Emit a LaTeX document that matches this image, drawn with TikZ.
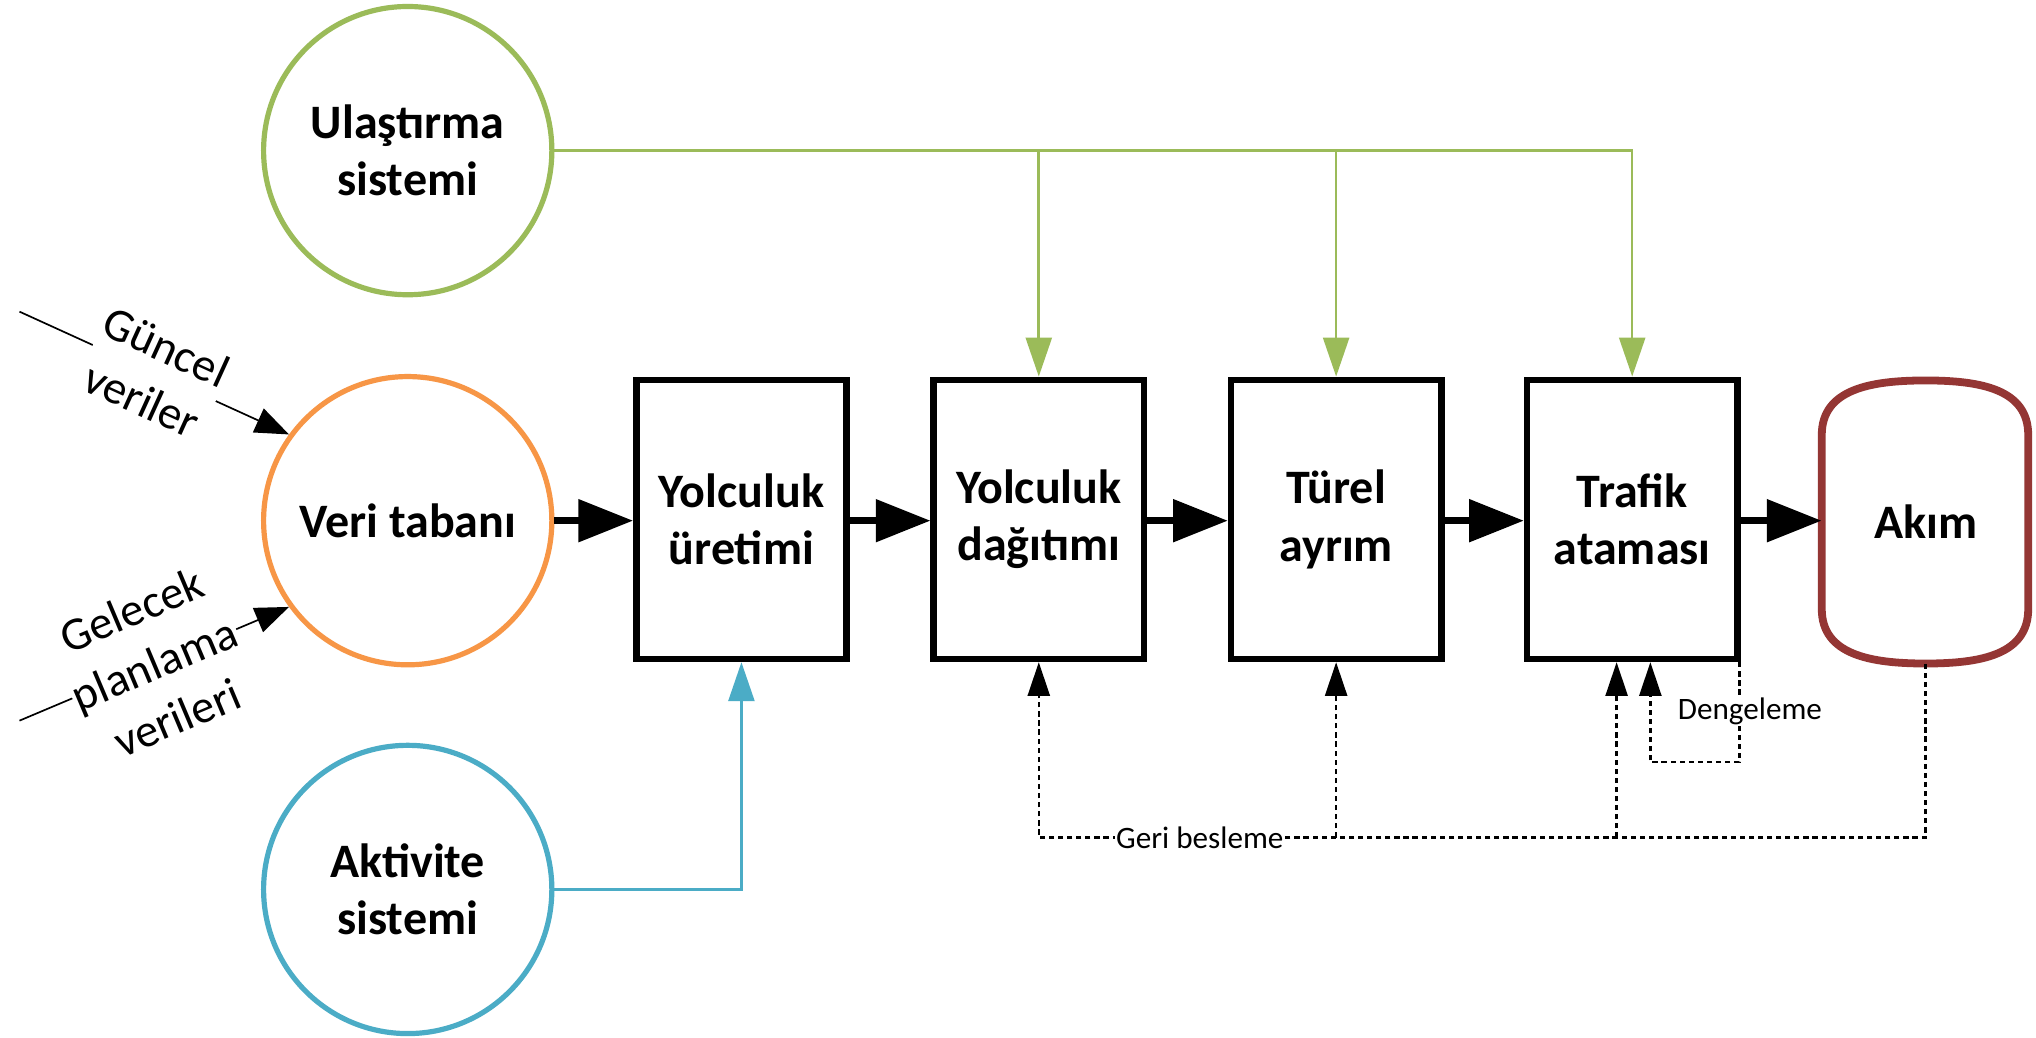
\documentclass[tikz,border=0pt]{standalone}
\usepackage{fontspec}
\setmainfont{Carlito}
\usetikzlibrary{arrows.meta,calc}

\definecolor{sysgreen}{HTML}{9BBB59}
\definecolor{dataorange}{HTML}{F79646}
\definecolor{actblue}{HTML}{4BACC6}
\definecolor{flowred}{HTML}{943634}

\begin{document}
\begin{tikzpicture}[x=1pt,y=-1pt,
  mainfont/.style={font=\fontsize{37}{44}\selectfont\bfseries},
  sidefont/.style={font=\fontsize{36}{45}\selectfont},
  smallfont/.style={font=\fontsize{24}{28}\selectfont},
  sysring/.style={circle, draw, line width=4pt, minimum size=222pt, inner sep=0pt, align=center, mainfont},
  stepbox/.style={rectangle, draw=black, line width=5pt, minimum width=162pt, minimum height=215pt, inner sep=0pt, align=center, mainfont},
  mainarrow/.style={line width=5pt, -{Triangle[length=42pt,width=32pt]}},
  greenarrow/.style={sysgreen, line width=2pt, -{Triangle[length=30pt,width=20pt]}},
  bluearrow/.style={actblue, line width=2pt, -{Triangle[length=30pt,width=20pt]}},
  fbline/.style={line width=1.9pt, dash pattern=on 4pt off 3pt},
  fbarrow/.style={fbline, -{Triangle[length=26pt,width=17pt]}},
  sidearrow/.style={line width=1.3pt, -{Triangle[length=26pt,width=20pt]}},
  gaplabel/.style={fill=white, inner sep=1pt}
]
\fill[white] (0,0) rectangle (1568,799);
\useasboundingbox (0,0) rectangle (1568,799);

% system circles
\node[sysring, draw=sysgreen] (ul) at (314,116) {Ulaştırma\\sistemi};
\node[sysring, draw=dataorange] (vt) at (314,401) {Veri tabanı};
\node[sysring, draw=actblue] (ak) at (314,685) {Aktivite\\sistemi};

% model steps
\node[stepbox] (yu) at (571,400) {Yolculuk\\üretimi};
\node[stepbox] (yd) at (800,400) {Yolculuk\\dağıtımı};
\node[stepbox] (tr) at (1029,400) {Türel\\ayrım};
\node[stepbox] (ta) at (1257,400) {Trafik\\ataması};

% flow result
\draw[flowred, line width=6pt]
  (1403,335) .. controls (1403,300) and (1440,293) .. (1483,293)
  .. controls (1526,293) and (1562,300) .. (1562,335) -- (1562,469)
  .. controls (1562,504) and (1526,511) .. (1483,511)
  .. controls (1440,511) and (1403,504) .. (1403,469) -- cycle;
\node[rectangle, minimum width=160pt, minimum height=218pt, inner sep=0pt, mainfont] (akim) at (1483,402) {Akım};

% main chain
\draw[mainarrow] (vt.east) -- (vt.east -| yu.west);
\draw[mainarrow] (yu.east |- vt.east) -- (yd.west |- vt.east);
\draw[mainarrow] (yd.east |- vt.east) -- (tr.west |- vt.east);
\draw[mainarrow] (tr.east |- vt.east) -- (ta.west |- vt.east);
\draw[mainarrow] (ta.east |- vt.east) -- (akim.west |- vt.east);

% transport system inputs
\draw[greenarrow] (ul.east) -| (yd.north);
\draw[greenarrow] (ul.east) -| (tr.north);
\draw[greenarrow] (ul.east) -| (ta.north);

% activity system input
\draw[bluearrow] (ak.east) -| (yu.south);

% data inputs
\coordinate (gv) at (15,240);
\coordinate (gp) at (15,555);
\draw[sidearrow] (gv) -- node[sloped, gaplabel, sidefont, align=center] (gvl) {Güncel\\veriler} (vt.144);
\draw[sidearrow] (gp) -- node[sloped, gaplabel, sidefont, align=center] (gpl) {Gelecek\\planlama\\verileri} (vt.216);

% feedback loops
\coordinate (fbA) at (1029,645);
\coordinate (fbB) at (1245,645);
\draw[fbarrow] (akim.south) |- (fbA) -| (yd.south);
\draw[fbarrow] (fbA) -- (tr.south);
\draw[fbarrow] (fbB) -- (fbB |- ta.south);
\draw[fbarrow] ($(ta.south east)+(-1,0)$) -- ++(0,77) -| ($(ta.south)+(14,0)$);
\node[gaplabel, smallfont] (gb) at (924,645) {Geri besleme};
\node[gaplabel, smallfont, anchor=west] (dg) at (1291,548) {Dengeleme};
\end{tikzpicture}
\end{document}
